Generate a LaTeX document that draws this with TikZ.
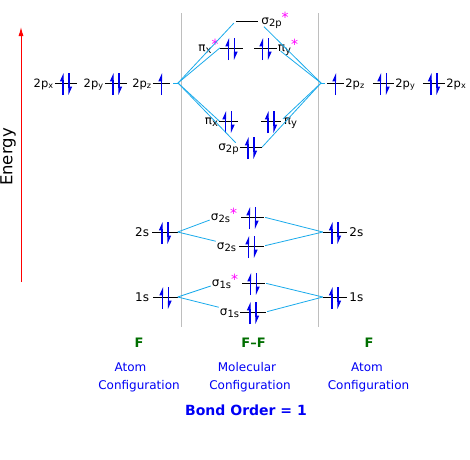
\documentclass[tikz,border=0pt]{standalone}
\usepackage{fontspec}
\setmainfont{DejaVu Sans}
\usepackage{tikz}
\usetikzlibrary{arrows.meta}
\usepackage{xcolor}

\definecolor{linkblue}{RGB}{25,170,235}
\definecolor{divgray}{RGB}{190,190,190}
\definecolor{spinblue}{RGB}{0,0,235}
\definecolor{textblue}{RGB}{0,0,245}
\definecolor{atomgreen}{RGB}{0,110,0}
\definecolor{starpink}{RGB}{255,0,255}

\tikzset{
  level/.style={inner sep=0pt, minimum width=#1, minimum height=0pt},
  bar/.style={black, line width=0.9pt},
  spin/.style={spinblue, line width=1.1pt, -{Triangle[harpoon,length=7pt,width=6pt]}},
  link/.style={linkblue, line width=0.8pt},
  divider/.style={divgray, line width=1pt},
  lab/.style={inner sep=1pt, font=\fontsize{12}{14}\selectfont},
  plab/.style={inner sep=1pt, font=\fontsize{11.5}{14}\selectfont},
  atomname/.style={anchor=base, atomgreen, font=\fontsize{13}{15}\selectfont\bfseries},
  caption/.style={anchor=base, textblue, font=\fontsize{12}{14}\selectfont},
}

% level line, electrons
\newcommand{\orbital}[4]{\node[level=#4pt] (#1) at (#2,#3) {};
  \draw[bar] (#1.west) -- (#1.east);}
\newcommand{\pairspin}[1]{%
  \draw[spin] ([xshift=-3pt,yshift=-12pt]#1.center) -- ([xshift=-3pt,yshift=10pt]#1.center);
  \draw[spin] ([xshift=3pt,yshift=10pt]#1.center) -- ([xshift=3pt,yshift=-12pt]#1.center);}
\newcommand{\onespin}[1]{%
  \draw[spin] ([yshift=-12pt]#1.center) -- ([yshift=10pt]#1.center);}
\newcommand{\anti}{\raisebox{2pt}{\fontsize{14}{14}\selectfont\textcolor{starpink}{*}}}
\newcommand{\lo}[1]{\raisebox{-2pt}{\fontsize{10}{11}\selectfont #1}}

\begin{document}
\begin{tikzpicture}[x=1pt,y=-1pt]
\useasboundingbox (0,0) rectangle (470,459);
% Energy axis
\coordinate (ebottom) at (21,282);
\coordinate (etop) at (21,27);
\draw[red, line width=1pt, -{Latex[length=9pt,width=5pt]}] (ebottom) -- (etop);
\node[rotate=90, font=\fontsize{16.5}{18}\selectfont] (energy) at (8,157) {Energy};
% dividers
\coordinate (d1top) at (181.5,13);
\coordinate (d1bot) at (181.5,327);
\coordinate (d2top) at (318.5,13);
\coordinate (d2bot) at (318.5,327);
\draw[divider] (d1top) -- (d1bot);
\draw[divider] (d2top) -- (d2bot);

% Atom (left)
\begin{scope}
\orbital{a2px}{66}{83}{22} \pairspin{a2px}
\orbital{a2py}{116}{83}{22} \pairspin{a2py}
\orbital{a2pz}{161.5}{83}{17} \onespin{a2pz}
\orbital{a2s}{165}{232}{25} \pairspin{a2s}
\orbital{a1s}{165.5}{297}{24} \pairspin{a1s}
\node[plab, anchor=base east] (a2pxl) at ([yshift=-4pt]a2px.west) {2p\textsubscript{x}};
\node[plab, anchor=base east] (a2pyl) at ([yshift=-4pt]a2py.west) {2p\textsubscript{y}};
\node[plab, anchor=base east] (a2pzl) at ([yshift=-4pt]a2pz.west) {2p\textsubscript{z}};
\node[lab, anchor=base east] (a2sl) at ([yshift=-4pt,xshift=-2pt]a2s.west) {2s};
\node[lab, anchor=base east] (a1sl) at ([yshift=-4pt,xshift=-3pt]a1s.west) {1s};
\end{scope}

% Atom (right)
\begin{scope}
\orbital{b2pz}{335.5}{83}{17} \onespin{b2pz}
\orbital{b2py}{383.5}{83}{21} \pairspin{b2py}
\orbital{b2px}{434}{83}{22} \pairspin{b2px}
\orbital{b2s}{335}{232}{24} \pairspin{b2s}
\orbital{b1s}{335}{297}{24} \pairspin{b1s}
\node[plab, anchor=base west] (b2pzl) at ([yshift=-4pt]b2pz.east) {2p\textsubscript{z}};
\node[plab, anchor=base west] (b2pyl) at ([yshift=-4pt]b2py.east) {2p\textsubscript{y}};
\node[plab, anchor=base west] (b2pxl) at ([yshift=-4pt]b2px.east) {2p\textsubscript{x}};
\node[lab, anchor=base west] (b2sl) at ([yshift=-4pt,xshift=1pt]b2s.east) {2s};
\node[lab, anchor=base west] (b1sl) at ([yshift=-4pt,xshift=1pt]b1s.east) {1s};
\end{scope}

% Molecule
\begin{scope}
\orbital{s2ps}{247}{21}{22}
\orbital{pxs}{231.5}{48}{23} \pairspin{pxs}
\orbital{pys}{265.5}{48}{22} \pairspin{pys}
\orbital{px}{228.5}{121}{18} \pairspin{px}
\orbital{py}{271}{121}{19} \pairspin{py}
\orbital{s2p}{251}{147}{22} \pairspin{s2p}
\orbital{s2ss}{252.5}{217}{22} \pairspin{s2ss}
\orbital{s2s}{251.5}{246}{24} \pairspin{s2s}
\orbital{s1ss}{253.5}{283}{22} \pairspin{s1ss}
\orbital{s1s}{253}{312}{25} \pairspin{s1s}
\node[lab, anchor=base west] (s2psl) at ([yshift=-3pt,xshift=2pt]s2ps.east) {σ\lo{2p}\anti};
\node[lab, anchor=base east] (pxsl) at ([yshift=-3pt]pxs.west) {π\lo{x}\anti};
\node[lab, anchor=base west] (pysl) at ([yshift=-3pt]pys.east) {π\lo{y}\anti};
\node[lab, anchor=base east] (pxl) at ([yshift=-3pt]px.west) {π\lo{x}};
\node[lab, anchor=base west] (pyl) at ([yshift=-3pt,xshift=2pt]py.east) {π\lo{y}};
\node[lab, anchor=base east] (s2pl) at ([yshift=-3pt]s2p.west) {σ\lo{2p}};
\node[lab, anchor=base east] (s2ssl) at ([yshift=-3pt,xshift=-3pt]s2ss.west) {σ\lo{2s}\anti};
\node[lab, anchor=base east] (s2sl) at ([yshift=-3pt,xshift=-2pt]s2s.west) {σ\lo{2s}};
\node[lab, anchor=base east] (s1ssl) at ([yshift=-3pt,xshift=-3pt]s1ss.west) {σ\lo{1s}\anti};
\node[lab, anchor=base east] (s1sl) at ([yshift=-3pt]s1s.west) {σ\lo{1s}};
\end{scope}

% connectors
\coordinate (lapex) at (178,83);
\coordinate (rapex) at (321,83);
\draw[link] ([xshift=3pt]a2pz.east) -- (lapex);
\draw[link, shorten >=3pt] (lapex) -- (s2ps.west);
\draw[link] (lapex) -- (pxs.west);
\draw[link] (lapex) -- (px.west);
\draw[link, shorten >=6pt] (lapex) -- (s2p.west);
\draw[link] (rapex) -- ([xshift=-2pt]b2pz.west);
\draw[link, shorten <=8pt] (s2ps.east) -- (rapex);
\draw[link, shorten <=5pt] (pys.east) -- (rapex);
\draw[link, shorten <=3pt] (py.east) -- (rapex);
\draw[link] (s2p.east) -- (rapex);
\draw[link] (a2s.east) -- (s2ssl.base west);
\draw[link] (a2s.east) -- (s2sl.north west);
\draw[link, shorten <=1.5pt] (s2ss.east) -- (b2s.west);
\draw[link, shorten <=1.5pt] (s2s.east) -- (b2s.west);
\draw[link] (a1s.east) -- (s1ssl.base west);
\draw[link] (a1s.east) -- (s1sl.north west);
\draw[link, shorten <=1.5pt] (s1ss.east) -- (b1s.west);
\draw[link, shorten <=1.5pt] (s1s.east) -- (b1s.west);

% captions
\node[atomname] (fl) at (139,347) {F};
\node[atomname] (ff) at (253.5,347) {F–F};
\node[atomname] (fr) at (369,347) {F};
\node[caption] (atl) at (130.5,371.5) {Atom};
\node[caption] (cfl) at (139,389) {Configuration};
\node[caption] (mol) at (247,371.5) {Molecular};
\node[caption] (cfm) at (250,389) {Configuration};
\node[caption] (atr) at (367,371.5) {Atom};
\node[caption] (cfr) at (368.5,389) {Configuration};
\node[anchor=base, textblue, font=\fontsize{14}{16}\selectfont\bfseries] (bond) at (246,415) {Bond Order = 1};
\end{tikzpicture}
\end{document}
